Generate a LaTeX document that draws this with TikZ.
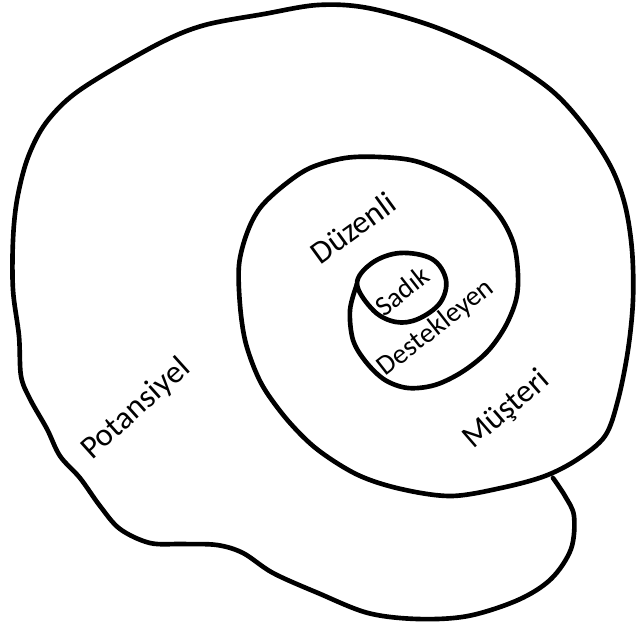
\documentclass[tikz,border=0pt]{standalone}
\usepackage{fontspec}
\setmainfont{Carlito}
\begin{document}
\begin{tikzpicture}[x=0.025cm,y=-0.025cm,
  curve/.style={line width=3.3pt, line join=round, line cap=round, black},
  lbl/.style={inner sep=0pt, font=\fontsize{23}{25}\selectfont},
  lblsmall/.style={inner sep=0pt, font=\fontsize{20}{22}\selectfont}]
\useasboundingbox (0,0) rectangle (636,632);
% inner loop (Sadik)
\draw[curve] plot[smooth cycle, tension=0.6] coordinates {
 (357,284) (372,263) (400,253) (432,259) (446,280) (440,303) (418,319) (396,322) (374,311)};
% spiral
\draw[curve] plot[smooth, tension=0.55] coordinates {
 (357,284) (350,310) (353,340) (366,362) (385,380) (408,388) (435,385) (462,372)
 (487,352) (505,327) (516,300) (518,275) (514,245) (501,218) (480,195) (450,175)
 (415,161) (380,157) (345,158) (310,168) (283,186) (260,208) (247,233) (239,265)
 (240,305) (245,340) (255,370) (267,393) (290,423) (318,450) (358,475) (401,489)
 (451,496) (501,488) (545,476) (578,459) (605,436) (618,400) (628,350) (633,300)
 (632,250) (625,205) (611,167) (585,127) (551,90) (501,57) (435,27) (368,8)
 (318,5) (264,14) (205,25) (162,42) (100,77) (67,100) (43,127) (27,160) (17,200)
 (13,240) (13,290) (19,336) (21,376) (30,399) (47,429) (60,456) (80,478)
 (100,506) (120,529) (150,543) (183,544) (217,545) (243,553) (273,573) (318,593)
 (368,613) (418,619) (468,616) (518,600) (551,579) (571,549) (574,516) (565,496)
 (553,478)};
% labels
\node[lbl, rotate=36] (duzenli) at (353,228) {Düzenli};
\node[lblsmall, rotate=38] (sadik) at (402,291) {Sadık};
\node[lblsmall, rotate=38] (destek) at (436,328) {Destekleyen};
\node[lbl, rotate=41] (musteri) at (507,410) {Müşteri};
\node[lbl, rotate=42] (potansiyel) at (136,409) {Potansiyel};
\end{tikzpicture}
\end{document}
